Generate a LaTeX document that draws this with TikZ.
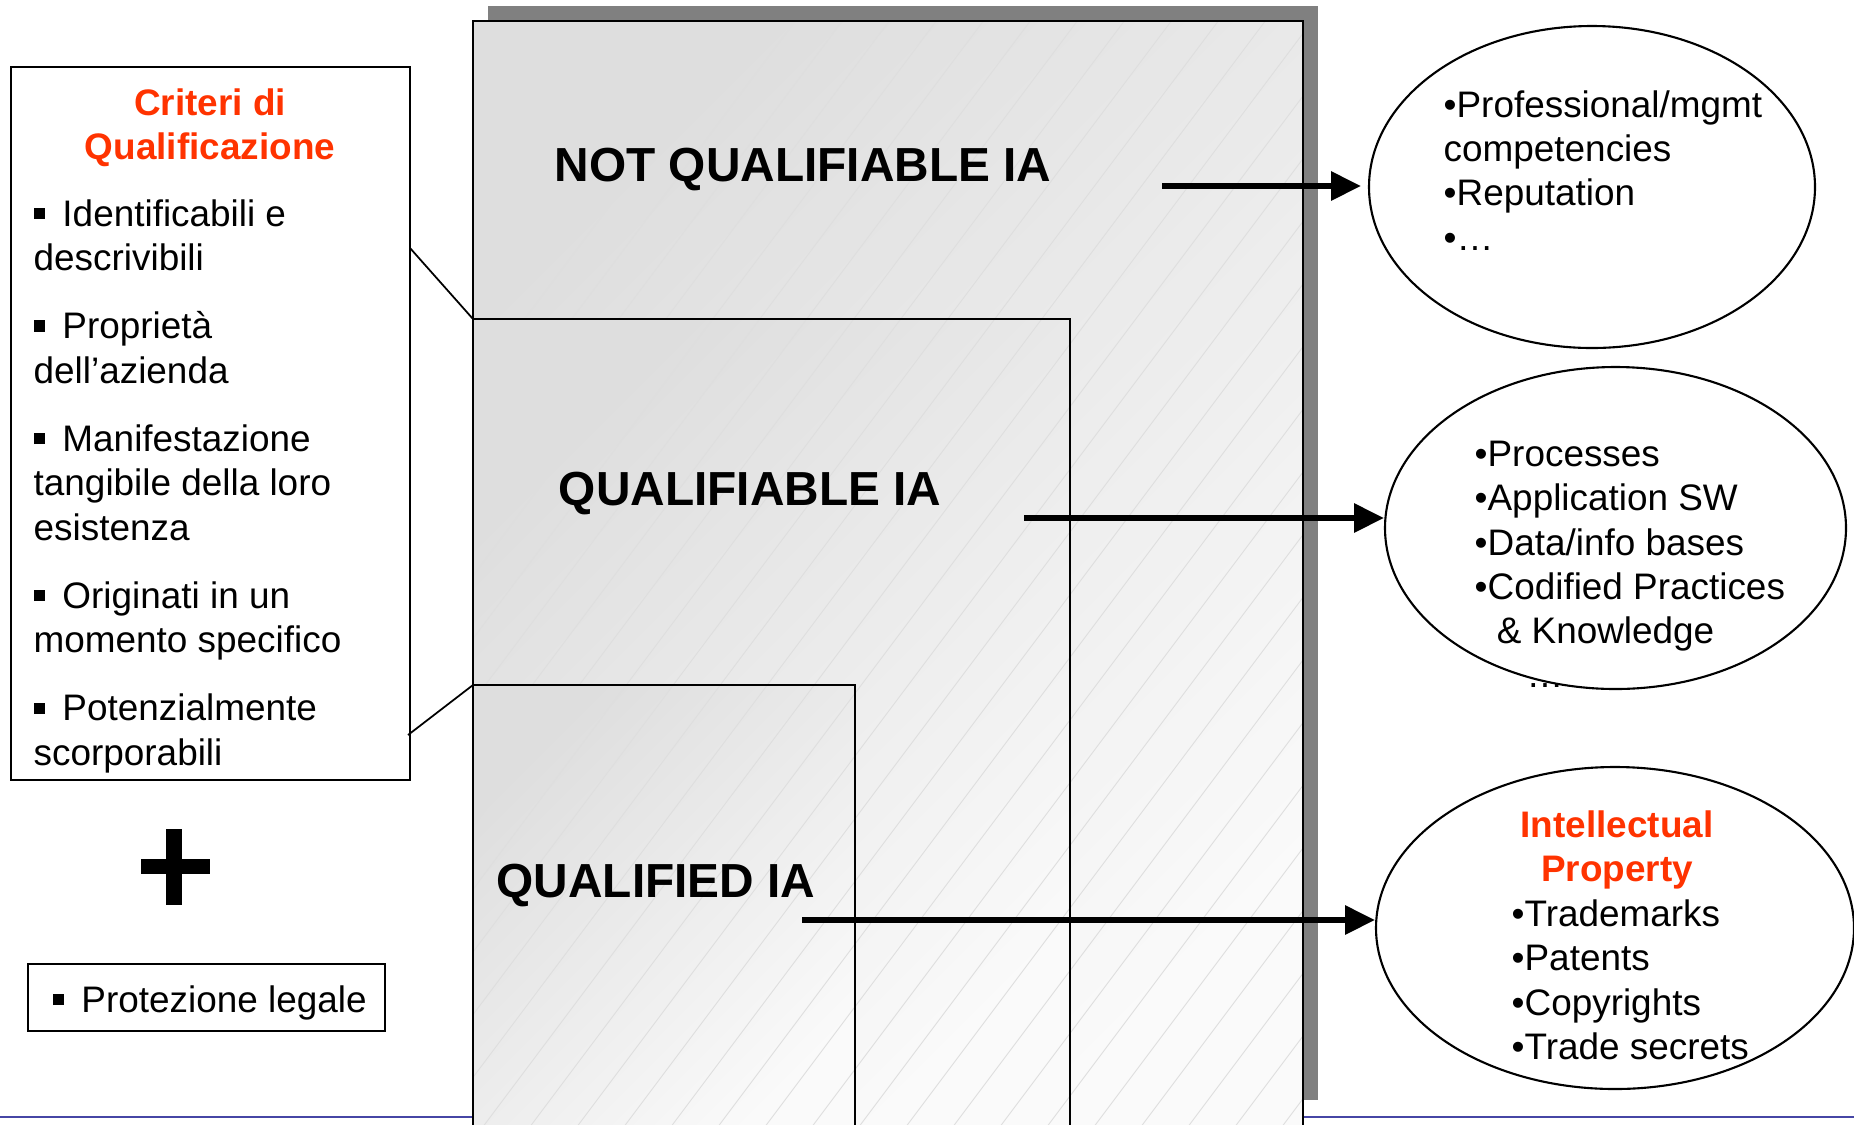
\documentclass[tikz,border=0pt]{standalone}
\usepackage{fontspec}
\setmainfont{Liberation Sans}
\usepackage{tikz}
\usetikzlibrary{arrows.meta, positioning, shapes.geometric}
\usepackage{xcolor}
\definecolor{ipred}{RGB}{255,51,0}
\definecolor{slideblue}{RGB}{70,70,165}
\newcommand{\sqbul}{\rule[0.19em]{0.3em}{0.3em}\hspace{0.48em}}

\begin{document}
\begin{tikzpicture}[x=0.1mm, y=-0.1mm,
    bigtxt/.style={font=\fontsize{13.6}{16}\selectfont\bfseries, inner sep=0pt, anchor=base},
    bodytxt/.style={font=\fontsize{10.5}{12.66}\selectfont, inner sep=0pt},
    redtxt/.style={font=\fontsize{10.5}{12.66}\selectfont\bfseries, text=ipred, inner sep=0pt, anchor=base},
    layer/.style={top color=black!13, bottom color=black!2, shading angle=45},
    hatch/.style={black!13, line width=0.25pt},
    edge/.style={line width=0.6pt},
    bubble/.style={ellipse, draw, line width=0.6pt, fill=white, inner sep=0pt, minimum height=32.2mm},
    flowarrow/.style={line width=1.6pt, -{Triangle[length=8.5pt, width=8pt]}}]
        \useasboundingbox (0,0) rectangle (1854,1124);
        \clip (0,0) rectangle (1854,1124);
        % slide rule and shadow
        \draw[slideblue, line width=0.8pt] (0,1117) -- (1854,1117);
        \fill[black!50] (488,6) rectangle (1318,1100);
        % nested layers (not qualifiable, qualifiable, qualified)
        \foreach \rx/\ry in {1303/21, 1070/319, 855/685} {
          \shade[layer] (473,\ry) rectangle (\rx,1140);
          \begin{scope}
            \clip (473,\ry) rectangle (\rx,1140);
            \foreach \k in {-18,...,18}
              \draw[hatch] (473+\k*47,1140) -- ++(900,-1200);
          \end{scope}
          \draw[edge] (473,1140) |- (\rx,\ry) -- (\rx,1140);
        }
        \coordinate (qable) at (473,319);
        \coordinate (qfied) at (473,685);
        \node[bigtxt] (nq) at (803,181) {NOT QUALIFIABLE IA};
        \node[bigtxt] (qa) at (750,505) {QUALIFIABLE IA};
        \node[bigtxt] (qd) at (656,897) {QUALIFIED IA};

        % criteria box
        \node[draw, edge, minimum width=39.9mm, minimum height=71.3mm, inner sep=0pt] (crit) at (210.5,423.5) {};
        \node[redtxt] (crittitle) at (210,115) {\parbox[t]{38mm}{\centering Criteri di\\Qualificazione}};
        \node[bodytxt, anchor=base west] (critlist) at (33,226) {\parbox[t]{37mm}{\raggedright
          \sqbul Identificabili e\\descrivibili\par\vspace{6.7pt}
          \sqbul Proprietà\\dell’azienda\par\vspace{6.7pt}
          \sqbul Manifestazione\\tangibile della loro\\esistenza\par\vspace{6.7pt}
          \sqbul Originati in un\\momento specifico\par\vspace{6.7pt}
          \sqbul Potenzialmente\\scorporabili}};
        \coordinate (c1) at (410,248);
        \coordinate (c2) at (408,735);
        \draw[line width=0.5pt] (c1) -- (qable);
        \draw[line width=0.5pt] (c2) -- (qfied);

        % plus and legal protection
        \fill (166,829) rectangle (182,905);
        \fill (141,859) rectangle (210,874);
        \node[draw, edge, minimum width=35.7mm, minimum height=6.7mm, inner sep=0pt] (prot) at (206.5,997.5) {};
        \node[bodytxt, anchor=base west] (protxt) at (52,1012) {\sqbul Protezione legale};

        % outcome ellipses
        \node[bodytxt, anchor=base] (more) at (1545,687) {…};
        \node[bubble, minimum width=44.6mm] (e1) at (1592,187) {};
        \node[bubble, minimum width=46.1mm] (e2) at (1615.5,528) {};
        \node[bubble, minimum width=47.8mm] (e3) at (1615,928) {};
        \node[bodytxt, anchor=base west] (l1) at (1443,117) {\parbox[t]{40mm}{\raggedright
          •Professional/mgmt\\competencies\\•Reputation\\•…}};
        \node[bodytxt, anchor=base west] (l2) at (1474,466) {\parbox[t]{40mm}{\raggedright
          •Processes\\•Application SW\\•Data/info bases\\•Codified Practices\\\hspace*{0.6em}\& Knowledge}};
        \node[redtxt] (iptitle) at (1617,837) {\parbox[t]{30mm}{\centering Intellectual\\Property}};
        \node[bodytxt, anchor=base west] (l3) at (1511,926) {\parbox[t]{40mm}{\raggedright
          •Trademarks\\•Patents\\•Copyrights\\•Trade secrets}};

        % arrows
        \coordinate (a1) at (1162,186);
        \coordinate (a2) at (1024,518);
        \coordinate (a3) at (802,920);
        \draw[flowarrow, shorten >=0.7mm] (a1) -- (a1 -| e1.west);
        \draw[flowarrow] (a2) -- (a2 -| e2.west);
        \draw[flowarrow] (a3) -- (a3 -| e3.west);
      \end{tikzpicture}
\end{document}
